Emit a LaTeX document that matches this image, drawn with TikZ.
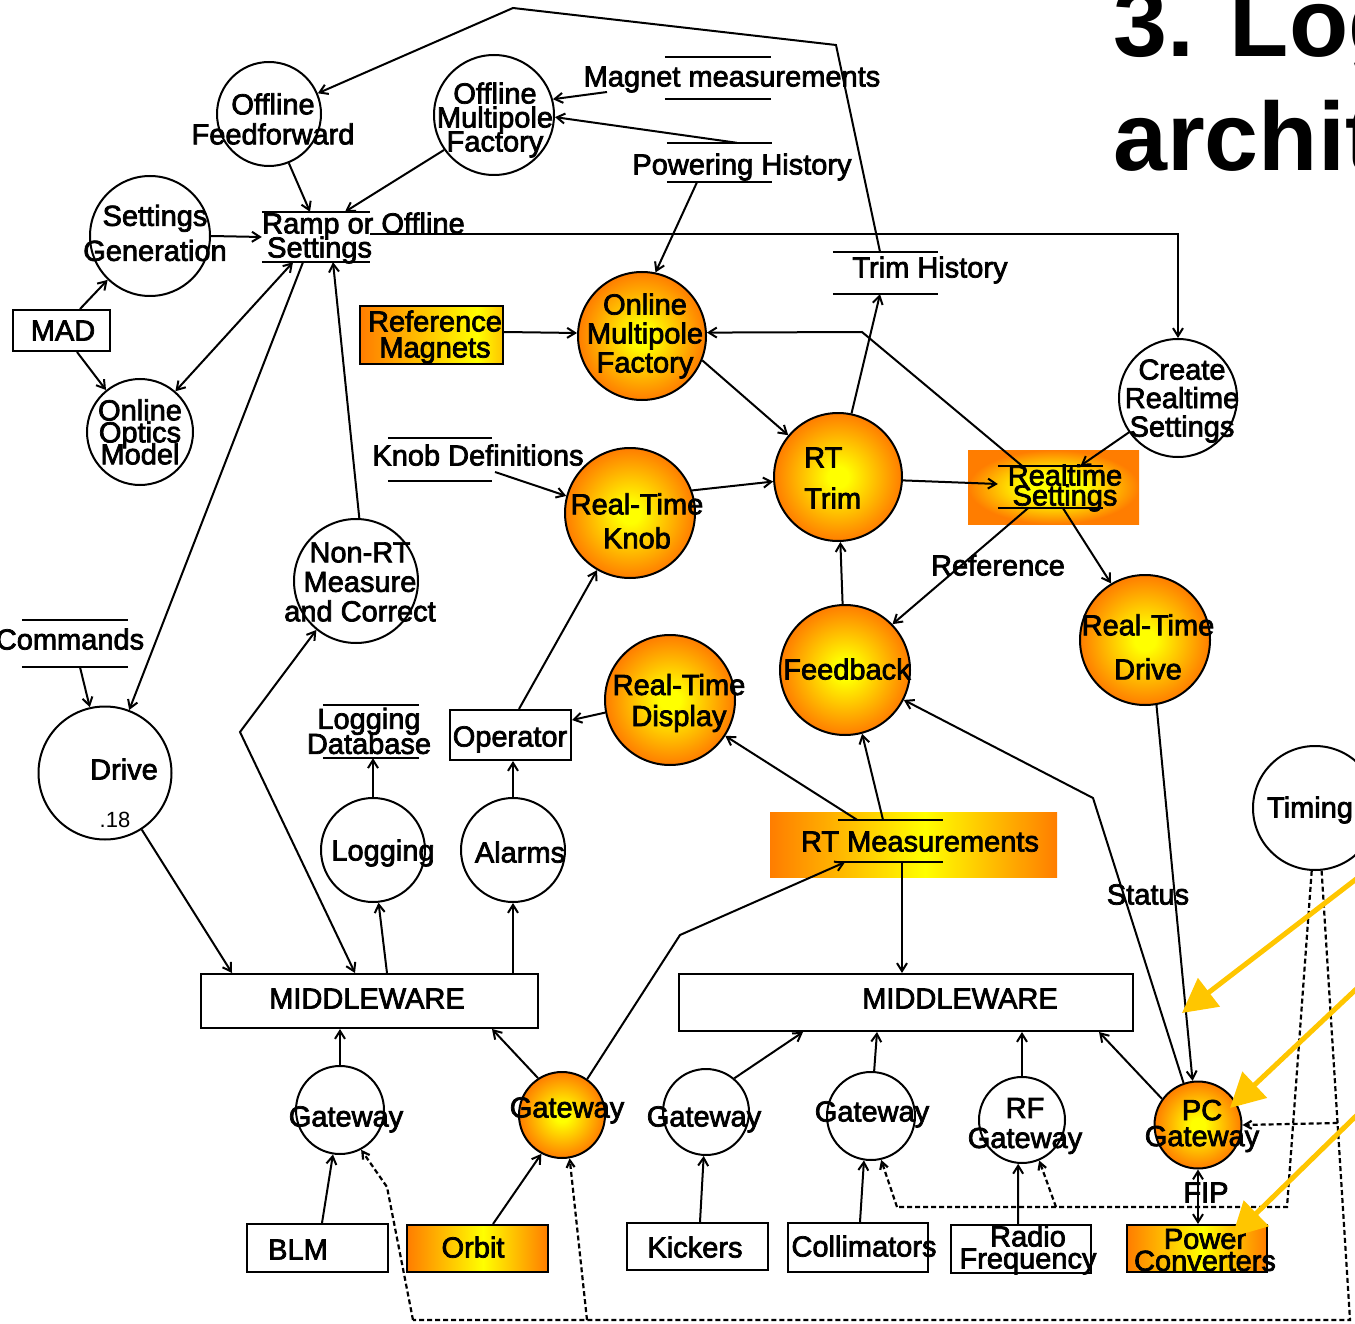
\documentclass[tikz,border=0pt]{standalone}
\usepackage{fontspec}
\setmainfont{Liberation Sans}[BoldFont={Liberation Sans}, BoldFeatures={FakeBold=2.5}]
\newfontfamily\headfont{Liberation Sans}
\usetikzlibrary{arrows.meta,calc}

\definecolor{gOra}{RGB}{255,125,0}
\definecolor{gYel}{RGB}{255,255,0}
\definecolor{hiYel}{RGB}{255,198,0}

% orange-to-yellow fills
\pgfdeclareradialshading{ballshade}{\pgfpoint{0bp}{0bp}}{color(0bp)=(gYel); color(4bp)=(gYel); color(25bp)=(gOra); color(50bp)=(gOra)}
\pgfdeclareradialshading{padshade}{\pgfpoint{0bp}{0bp}}{color(0bp)=(gYel); color(9bp)=(gYel); color(25bp)=(gOra); color(50bp)=(gOra)}
\pgfdeclarehorizontalshading{barshade}{100bp}{color(0bp)=(gOra); color(25bp)=(gOra); color(52bp)=(gYel); color(75bp)=(gOra); color(100bp)=(gOra)}
\pgfdeclarehorizontalshading{barshadeR}{100bp}{color(0bp)=(gOra); color(25bp)=(gOra); color(66bp)=(gYel); color(75bp)=(gYel!55!gOra); color(100bp)=(gYel!55!gOra)}

\tikzset{
  lbl/.style={inner sep=0pt, align=center, font=\fontsize{29}{30}\selectfont\bfseries},
  one/.style={lbl, text height=21pt, text depth=6pt},
  lsp/.style={font={\fontsize{29}{#1}\selectfont\bfseries\lineskiplimit=-100pt}},
  proc/.style={circle, draw, line width=2pt, inner sep=0pt, minimum size=#1},
  hot/.style={proc=#1, shading=ballshade},
  box/.style 2 args={rectangle, draw, line width=2pt, inner sep=0pt, minimum width=#1, minimum height=#2},
  pad/.style 2 args={rectangle, inner sep=0pt, minimum width=#1, minimum height=#2},
  store/.style 2 args={rectangle, inner sep=0pt, minimum width=#1, minimum height=#2},
  edge/.style={line width=2pt},
  arr/.style={edge, -{Straight Barb[length=8pt,width=10pt]}},
  darr/.style={edge, {Straight Barb[length=8pt,width=10pt]}-{Straight Barb[length=8pt,width=10pt]}},
  dsh/.style={line width=2.2pt, dash pattern=on 5pt off 3pt},
  dsharr/.style={dsh, -{Straight Barb[length=7pt,width=8pt]}},
  hl/.style={line width=5pt, draw=hiYel, -{Triangle[length=34pt,width=35pt]}},
}

\begin{document}
\begin{tikzpicture}[x=1pt,y=-1pt]
\useasboundingbox (0,0) rectangle (1355,1324);
\clip (0,0) rectangle (1355,1324);
\fill[white] (0,0) rectangle (1355,1324);

% heading
\node[anchor=base west, inner sep=0pt, font=\headfont\fontsize{97}{115}\selectfont\bfseries] (head1) at (1113,57) {3. Log};
\node[anchor=base west, inner sep=0pt, font=\headfont\fontsize{97}{115}\selectfont\bfseries] (head2) at (1113,171) {archit};

% filled boxes
\node[box={143}{58}, shading=barshadeR] (refm) at (431.5,335) {};
\node[pad={171}{74}, shading=padshade] (rts) at (1053.5,487) {};
\node[pad={287}{65}, shading=barshade] (rtm) at (913.5,844.5) {};
\node[box={141}{47}, shading=barshade] (orb) at (477.5,1248.5) {};
\node[box={140}{47}, shading=barshade] (pc) at (1197,1248.5) {};

% plain boxes
\node[box={97}{41}] (mad) at (61.5,330.5) {};
\node[box={121}{50}] (oper) at (510.5,735) {};
\node[box={337}{54}] (mw1) at (369.5,1001) {};
\node[box={454}{57}] (mw2) at (906,1002.5) {};
\node[box={141}{48}] (blm) at (317.5,1248) {};
\node[box={141}{47}] (kick) at (697.5,1246.5) {};
\node[box={140}{49}] (coll) at (858,1247.5) {};
\node[box={140}{48}] (rf) at (1021,1249) {};

% processes
\node[proc=104] (ff) at (269,114) {};
\node[proc=120] (omf) at (494,115) {};
\node[proc=120] (sg) at (150,236) {};
\node[proc=106] (oom) at (140,432) {};
\node[proc=124] (nrt) at (356,581) {};
\node[proc=118] (crs) at (1178,398) {};
\node[proc=133] (drv) at (105,773) {};
\node[proc=104] (log) at (373,850) {};
\node[proc=104] (alm) at (513,850) {};
\node[proc=124] (tim) at (1315,808) {};
\node[hot=128] (onmf) at (642,336) {};
\node[hot=130] (rtk) at (630,513) {};
\node[hot=128] (rtt) at (838,477) {};
\node[hot=130] (fb) at (845,670) {};
\node[hot=130] (rtd) at (1145,640) {};
\node[hot=130] (disp) at (670,700) {};
\node[proc=88] (gw1) at (340,1110) {};
\node[hot=86] (gwo) at (562,1115) {};
\node[proc=86] (gw3) at (706,1112) {};
\node[proc=88] (gw4) at (871,1116) {};
\node[proc=86] (rfg) at (1022,1120) {};
\node[hot=87] (pcg) at (1198,1125) {};

% data stores
\node[store={108}{50}] (ramp) at (316,237) {};
\node[store={106}{42}] (mm) at (718,78) {};
\node[store={105}{39}] (ph) at (719.5,162.5) {};
\node[store={105}{42}] (th) at (885.5,273) {};
\node[store={104}{43}] (kd) at (440,459.5) {};
\node[store={106}{47}] (cmd) at (75,643.5) {};
\node[store={96}{53}] (ldb) at (371,731.5) {};
\node[store={105}{42}] (rtsS) at (1050.5,487) {};
\node[store={105}{42}] (rtmS) at (890.5,841) {};
\foreach \s in {ramp,mm,ph,th,kd,cmd,ldb,rtsS,rtmS}
  \draw[edge] (\s.north west) -- (\s.north east) (\s.south west) -- (\s.south east);

% texts
\node[lbl, lsp=30] (ff-t) at (273,119) {Offline\\Feedforward};
\node[lbl, lsp=24] (omf-t) at (495,120) {Offline\\Multipole\\Factory};
\node[lbl, lsp=35] (sg-t) at (155,233) {Settings\\Generation};
\node[lbl, lsp=22] (oom-t) at (140,432) {Online\\Optics\\Model};
\node[lbl, lsp=29.5] (nrt-t) at (360,582) {Non-RT\\Measure\\and Correct};
\node[lbl, lsp=28.5] (crs-t) at (1182,401) {Create\\Realtime\\Settings};
\node[one] (drv-t) at (124,772) {Drive};
\node[inner sep=0pt, font=\fontsize{22}{24}\selectfont] (drv-n) at (115,820) {.18};
\node[one] (log-t) at (383,853) {Logging};
\node[one] (alm-t) at (520,855) {Alarms};
\node[one] (tim-t) at (1310,810) {Timing};
\node[lbl, lsp=29] (onmf-t) at (645,336) {Online\\Multipole\\Factory};
\node[lbl, lsp=34] (rtk-t) at (637,521) {Real-Time\\Knob};
\node[lbl, lsp=41, align=left, anchor=west] (rtt-t) at (804,478) {RT\\Trim};
\node[lbl, lsp=44] (rtd-t) at (1148,647) {Real-Time\\Drive};
\node[lbl, lsp=31] (disp-t) at (679,703) {Real-Time\\Display};
\node[one] (fb-t) at (847,672) {Feedback};
\node[lbl, lsp=20] (rts-t) at (1065,488) {Realtime\\Settings};
\node[lbl, lsp=26] (refm-t) at (435,337) {Reference\\Magnets};
\node[lbl, lsp=25] (ldb-t) at (369,731) {Logging\\Database};
\node[lbl, lsp=24, align=left, anchor=west] (ramp-t) at (262,238) {Ramp or Offline\\\hspace*{5pt}Settings};
\node[one] (mm-t) at (732,79) {Magnet measurements};
\node[one] (ph-t) at (742,167) {Powering History};
\node[one] (th-t) at (930,270) {Trim History};
\node[one] (kd-t) at (478,458) {Knob Definitions};
\node[one] (cmd-t) at (70,642) {Commands};
\node[one] (rtm-t) at (920,844) {RT Measurements};
\node[one] (mad-t) at (63,333) {MAD};
\node[one] (oper-t) at (510,739) {Operator};
\node[one] (mw1-t) at (367,1001) {MIDDLEWARE};
\node[one] (mw2-t) at (960,1001) {MIDDLEWARE};
\node[one] (blm-t) at (298,1252) {BLM};
\node[one] (orb-t) at (473,1250) {Orbit};
\node[one] (kick-t) at (695,1250) {Kickers};
\node[one] (coll-t) at (864,1249) {Collimators};
\node[lbl, lsp=22] (rf-t) at (1028,1250) {Radio\\Frequency};
\node[lbl, lsp=22] (pc-t) at (1205,1250) {Power\\Converters};
\node[one] (gw1-t) at (346,1119) {Gateway};
\node[one] (gwo-t) at (567,1110) {Gateway};
\node[one] (gw3-t) at (704,1119) {Gateway};
\node[one] (gw4-t) at (872,1114) {Gateway};
\node[lbl, lsp=30] (rfg-t) at (1025,1126) {RF\\Gateway};
\node[lbl, lsp=26] (pcg-t) at (1202,1126) {PC\\Gateway};
\node[one] (ref-l) at (998,568) {Reference};
\node[one] (stat-l) at (1148,897) {Status};
\node[one] (fip-l) at (1206,1195) {FIP};

% bend points
\coordinate (kA) at (836,45);
\coordinate (kB) at (513,8);
\coordinate (kC) at (240,732);
\coordinate (kD) at (862,332);
\coordinate (kE) at (1093,798);
\coordinate (kF) at (680,935);

% connectors, upper left
\draw[arr] (sg.east) -- (ramp.west);
\draw[arr] (ff.-68) -- ([xshift=-6pt]ramp.north);
\draw[arr] (omf.-145) -- ([xshift=29pt]ramp.north);
\draw[arr] ([shift={(-125,13)}]mm-t.center) -- (omf.15);
\draw[arr] ([xshift=17.5pt]ph.north) -- (omf.-2);
\draw[arr] ([xshift=-22.5pt]ph.south) -- (onmf.78);
\draw[arr] ([xshift=-5.5pt]th.north) -- (kA) -- (kB) -- (ff.23);
\draw[arr] ([yshift=3pt]ramp.east) -| (crs.north);
\draw[darr] ([xshift=-23pt]ramp.south) -- (oom.49);
\draw[arr] ([xshift=18.5pt]mad.north) -- (sg.-134);
\draw[arr] ([xshift=15.5pt]mad.south) -- (oom.129);
\draw[arr] ([xshift=-13pt]ramp.south) -- (drv.69);
\draw[arr] (nrt.87) -- ([xshift=17pt]ramp.south);
\draw[arr] ([xshift=5pt]cmd.south) -- (drv.103);

% connectors, middle
\draw[arr] (drv.-57) -- ([xshift=-137.5pt]mw1.north);
\draw[darr] ([xshift=-14.5pt]mw1.north) -- (kC) -- (nrt.-129);
\draw[arr] ([xshift=17.5pt]mw1.north) -- (log.-84);
\draw[arr] (log.north) -- (log.north |- ldb.south);
\draw[arr] (alm.south |- mw1.north) -- (alm.south);
\draw[arr] (alm.north) -- (alm.north |- oper.south);
\draw[arr] ([xshift=8.5pt]oper.north) -- (rtk.-120);
\draw[arr] (disp.-169) -- ([yshift=15pt]oper.east);
\draw[arr] ([yshift=3pt]refm.east) -- ([yshift=3pt]onmf.west);
\draw[arr] ([xshift=-28.5pt]rtsS.north) -- (kD) -- (onmf.3);
\draw[arr] (onmf.-22) -- (rtt.140);
\draw[arr] ([shift={(55,12.5)}]kd.center) -- (rtk.165);
\draw[arr] (rtk.20) -- (rtt.184);
\draw[arr] (rtt.78) -- ([xshift=-5.5pt]th.south);
\draw[arr] (fb) -- (rtt);
\draw[arr] (rtt.-3) -- ([yshift=3pt]rtsS.west);
\draw[arr] (crs.-145) -- ([xshift=30pt]rtsS.north);
\draw[arr] ([xshift=-22.5pt]rtsS.south) -- (fb.44);
\draw[arr] ([xshift=12.5pt]rtsS.south) -- (rtd.121);
\draw[arr] (rtd.-80) -- (pcg.97);
\draw[arr] (pcg.109) -- (kE) -- (fb.-27);
\draw[arr] ([xshift=-7.5pt]rtmS.north) -- (fb.-75);
\draw[arr] ([xshift=-33.5pt]rtmS.north) -- (disp.-33);
\draw[arr] ([xshift=11.5pt]rtmS.south) -- ([xshift=11.5pt]rtmS.south |- mw2.north);
\draw[arr] (gwo.55) -- (kF) -- ([xshift=-45.5pt]rtmS.south);

% connectors, bottom
\draw[arr] (gw1.north) -- (gw1.north |- mw1.south);
\draw[arr] ([xshift=4.5pt]blm.north) -- (gw1.-99);
\draw[arr] ([xshift=15.5pt]orb.north) -- (gwo.-118);
\draw[arr] (gwo.123) -- ([xshift=122.5pt]mw1.south);
\draw[arr] (gw3.50) -- ([xshift=-103pt]mw2.south);
\draw[arr] ([xshift=2.5pt]kick.north) -- (gw3.-93);
\draw[arr] (gw4.86) -- ([xshift=-29pt]mw2.south);
\draw[arr] ([xshift=2pt]coll.north) -- (gw4.-99);
\draw[arr] (rfg.north) -- (rfg.north |- mw2.south);
\draw[arr] ([xshift=-3pt]rf.north) -- (rfg.-95);
\draw[arr] (pcg.144) -- ([xshift=-35pt]mw2.south east);
\draw[darr] (pcg.south) -- (pcg.south |- pc.north);

% timing distribution
\coordinate (dA) at (1287,1207);
\coordinate (dB) at (897,1207);
\coordinate (dC) at (1056,1207);
\coordinate (dD) at (1350,1320);
\coordinate (dE) at (413,1320);
\coordinate (dF) at (387,1187);
\coordinate (dG) at (587,1320);
\coordinate (dH) at (1337.7,1123);
\draw[dsh] (tim.-93) -- (dA) -- (dB);
\draw[dsharr] (dB) -- (gw4.-77);
\draw[dsharr] (dC) -- (rfg.-67);
\draw[dsh] (tim.-84) -- (dD) -- (dE);
\draw[dsharr] (dE) -- (dF) -- (gw1.-62);
\draw[dsharr] (dG) -- (gwo.-80);
\draw[dsharr] (dH) -- (pcg.east);

% highlight arrows
\coordinate (y1s) at (1420,830);
\coordinate (y1e) at (1182,1013);
\coordinate (y2s) at (1420,929);
\coordinate (y2e) at (1230,1108);
\coordinate (y3s) at (1420,1053.6);
\coordinate (y3e) at (1232,1237);
\draw[hl] (y1s) -- (y1e);
\draw[hl] (y2s) -- (y2e);
\draw[hl] (y3s) -- (y3e);
\end{tikzpicture}
\end{document}
